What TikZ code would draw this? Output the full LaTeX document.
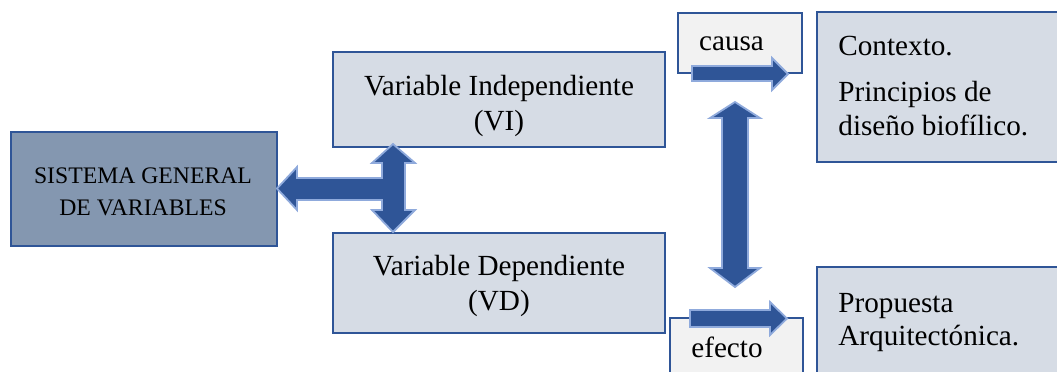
\documentclass[tikz,border=0pt]{standalone}
\usepackage{fontspec}
\setmainfont{Liberation Serif}
\definecolor{boxline}{HTML}{2F5597}
\definecolor{arrowfill}{HTML}{2F5597}
\definecolor{arrowedge}{HTML}{8FAADC}
\definecolor{darkfill}{HTML}{8497B0}
\definecolor{lightfill}{HTML}{D6DCE5}
\definecolor{palefill}{HTML}{F2F2F2}
\begin{document}
\begin{tikzpicture}[x=0.5pt,y=-0.5pt,
  box/.style={draw=boxline, line width=1.1pt, rectangle, inner sep=0pt},
  txt/.style={font=\fontsize{14.6}{17.5}\selectfont, inner sep=0pt, anchor=base},
  txtl/.style={txt, anchor=base west},
  smalltxt/.style={font=\fontsize{11.85}{15}\selectfont, inner sep=0pt, anchor=base},
  blockarrow/.style={fill=arrowfill, draw=arrowedge, line width=0.9pt, line join=miter}]
\useasboundingbox (0,0) rectangle (1057,371);

% boxes
\node[box, fill=darkfill, minimum width=133pt, minimum height=57pt] (sys) at (144,189) {};
\node[box, fill=lightfill, minimum width=166pt, minimum height=47.5pt] (vi) at (499,99.5) {};
\node[box, fill=lightfill, minimum width=166pt, minimum height=50pt] (vd) at (499,283) {};
\node[box, fill=palefill, minimum width=62pt, minimum height=30pt] (causa) at (740,43) {};
\node[box, fill=lightfill, minimum width=124pt, minimum height=75pt] (ctx) at (941,87) {};
\node[box, fill=palefill, minimum width=66.5pt, minimum height=31pt] (efecto) at (736.5,349) {};
\node[box, fill=lightfill, minimum width=124pt, minimum height=66.5pt] (prop) at (941,333.5) {};

% texts
\node[smalltxt] (sg1) at (143,183) {SISTEMA GENERAL};
\node[smalltxt] (sg2) at (143,215.5) {DE VARIABLES};
\node[txt] (vi1) at (499,95) {Variable Independiente};
\node[txt] (vi2) at (499,130) {(VI)};
\node[txt] (vd1) at (499,275) {Variable Dependiente};
\node[txt] (vd2) at (499,310) {(VD)};
\node[txt] (causat) at (731.5,50) {causa};
\node[txt] (efectot) at (727,357) {efecto};
\node[txtl] (ctx1) at (838,55) {Contexto.};
\node[txtl] (ctx2) at (838,101.5) {Principios de};
\node[txtl] (ctx3) at (838,135) {diseño biofílico.};
\node[txtl] (prop1) at (838,312) {Propuesta};
\node[txtl] (prop2) at (838,345) {Arquitectónica.};

% T-shaped arrow: VI <-> VD, branching to the general system
\path[blockarrow] (393,144) -- (415,163) -- (405,163) -- (405,210) -- (415,210)
  -- (393,232) -- (372,210) -- (382,210) -- (382,200) -- (297,200) -- (297,210)
  -- (277,188.5) -- (297,167) -- (297,178) -- (382,178) -- (382,163) -- (372,163) -- cycle;

% causa <-> efecto
\path[blockarrow] (735,102) -- (760,118) -- (748,118) -- (748,268) -- (760,268)
  -- (735,287) -- (710,268) -- (722,268) -- (722,118) -- (710,118) -- cycle;

% causa -> Contexto
\path[blockarrow] (692,66) -- (772,66) -- (772,58) -- (788,74) -- (772,90)
  -- (772,81) -- (692,81) -- cycle;

% efecto -> Propuesta
\path[blockarrow] (690,310) -- (770,310) -- (770,302) -- (787,318.5) -- (770,335)
  -- (770,327) -- (690,327) -- cycle;
\end{tikzpicture}
\end{document}
